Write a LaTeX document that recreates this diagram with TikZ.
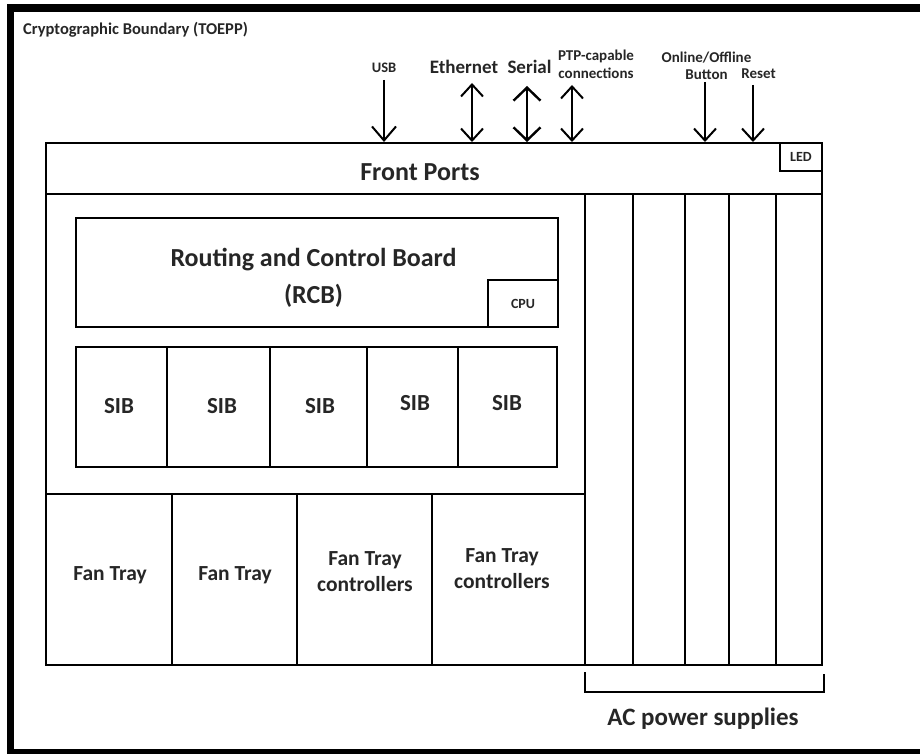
\documentclass[tikz,border=0pt]{standalone}
\usepackage{fontspec}
\setmainfont{Carlito}
\usetikzlibrary{arrows.meta}
\begin{document}
\begin{tikzpicture}[x=1pt,y=-1pt,
  box/.style={draw, line width=2pt, inner sep=0pt, minimum width=#1},
  cellh/.style={minimum height=#1},
  txt/.style 2 args={font=\bfseries\fontsize{#1}{#2}\selectfont, align=center, inner sep=0pt, text=black!85},
  conn/.style={line width=2pt},
  barb/.style={Straight Barb[length=12pt,width=24pt,line width=2pt]},
  frame/.style={fill=black, draw=none}
]
\useasboundingbox (0,0) rectangle (920,754);
% outer frame (open on the right)
\fill[frame] (7,4) rectangle (920,12);
\fill[frame] (7,4) rectangle (14,754);
\fill[frame] (7,749) rectangle (920,754);
\node[txt={16.5}{18}, anchor=west] (title) at (23,30) {Cryptographic Boundary (TOEPP)};

% front ports
\node[box=776pt, cellh=51pt] (fp) at (434,168.5) {};
\node[box=42pt, cellh=28pt] (led) at (801,157) {};
\node[txt={14}{16}] (ledt) at (801,157) {LED};
\node[txt={26}{30}] (fpt) at (420,172) {Front Ports};

% board region
\node[box=539pt, cellh=300pt] (board) at (315.5,344) {};
\node[box=482pt, cellh=109pt] (rcb) at (317,272.5) {};
\node[box=70pt, cellh=47pt] (cpu) at (523,303.5) {};
\node[txt={14}{16}] (cput) at (523,304) {CPU};
\node[txt={26}{37}] (rcbt) at (313.5,278) {Routing and Control Board\\(RCB)};

% SIB cells
\node[box=91pt, cellh=120pt] (sib1) at (121.5,407) {};
\node[box=103pt, cellh=120pt] (sib2) at (218.5,407) {};
\node[box=97pt, cellh=120pt] (sib3) at (318.5,407) {};
\node[box=91pt, cellh=120pt] (sib4) at (412.5,407) {};
\node[box=99pt, cellh=120pt] (sib5) at (507.5,407) {};
\node[txt={23}{26}] (sib1t) at (119,406) {SIB};
\node[txt={23}{26}] (sib2t) at (222,406) {SIB};
\node[txt={23}{26}] (sib3t) at (320,406) {SIB};
\node[txt={23}{26}] (sib4t) at (415,403) {SIB};
\node[txt={23}{26}] (sib5t) at (507,403) {SIB};

% fan trays
\node[box=126pt, cellh=171pt] (fan1) at (109,579.5) {};
\node[box=125pt, cellh=171pt] (fan2) at (234.5,579.5) {};
\node[box=135pt, cellh=171pt] (fan3) at (364.5,579.5) {};
\node[box=153pt, cellh=171pt] (fan4) at (508.5,579.5) {};
\node[txt={21.5}{26}] (fan1t) at (110,575) {Fan Tray};
\node[txt={21.5}{26}] (fan2t) at (235,575) {Fan Tray};
\node[txt={21.5}{26}] (fan3t) at (365,572) {Fan Tray\\controllers};
\node[txt={21.5}{26}] (fan4t) at (502,569) {Fan Tray\\controllers};

% power supply slots
\node[box=48pt, cellh=471pt] (ps1) at (609,429.5) {};
\node[box=52pt, cellh=471pt] (ps2) at (659,429.5) {};
\node[box=44pt, cellh=471pt] (ps3) at (707,429.5) {};
\node[box=47pt, cellh=471pt] (ps4) at (752.5,429.5) {};
\node[box=46pt, cellh=471pt] (ps5) at (799,429.5) {};

% bracket + label
\coordinate (brA) at (585,672);
\coordinate (brB) at (824,674);
\draw[conn] (brA) -- ++(0,20) -| (brB);
\node[txt={25}{28}] (act) at (703,719) {AC power supplies};

% port labels
\node[txt={14.5}{17}] (usbt) at (384,68) {USB};
\node[txt={19}{22}] (etht) at (464,67) {Ethernet};
\node[txt={19}{22}] (sert) at (529.5,67) {Serial};
\node[txt={15}{18}] (ptpt) at (596,64) {PTP-capable\\connections};
\node[txt={15}{17}] (onlt) at (706.5,65.5) {Online/Offline\\Button};
\node[txt={15}{17}] (rstt) at (758.5,74) {Reset};

% arrows
\coordinate (usbA) at (384,80);
\coordinate (ethA) at (472,83);
\coordinate (serA) at (527,86);
\coordinate (ptpA) at (572,85);
\coordinate (onlA) at (705,82);
\coordinate (rstA) at (753,85);
\draw[conn, -{Straight Barb[length=14pt,width=24pt,line width=2pt]}] (usbA) -- (usbA |- fp.north);
\draw[conn, {Straight Barb[length=12pt,width=22pt,line width=2pt]}-{Straight Barb[length=12pt,width=22pt,line width=2pt]}] (ethA) -- (ethA |- fp.north);
\draw[conn, {Straight Barb[length=13pt,width=27pt,line width=2.4pt]}-{Straight Barb[length=13pt,width=27pt,line width=2.4pt]}] (serA) -- (serA |- fp.north);
\draw[conn, {Straight Barb[length=12pt,width=22pt,line width=2pt]}-{Straight Barb[length=12pt,width=22pt,line width=2pt]}] (ptpA) -- (ptpA |- fp.north);
\draw[conn, -{Straight Barb[length=12pt,width=22pt,line width=2pt]}] (onlA) -- (onlA |- fp.north);
\draw[conn, -{Straight Barb[length=12pt,width=22pt,line width=2pt]}] (rstA) -- (rstA |- fp.north);
\end{tikzpicture}
\end{document}
